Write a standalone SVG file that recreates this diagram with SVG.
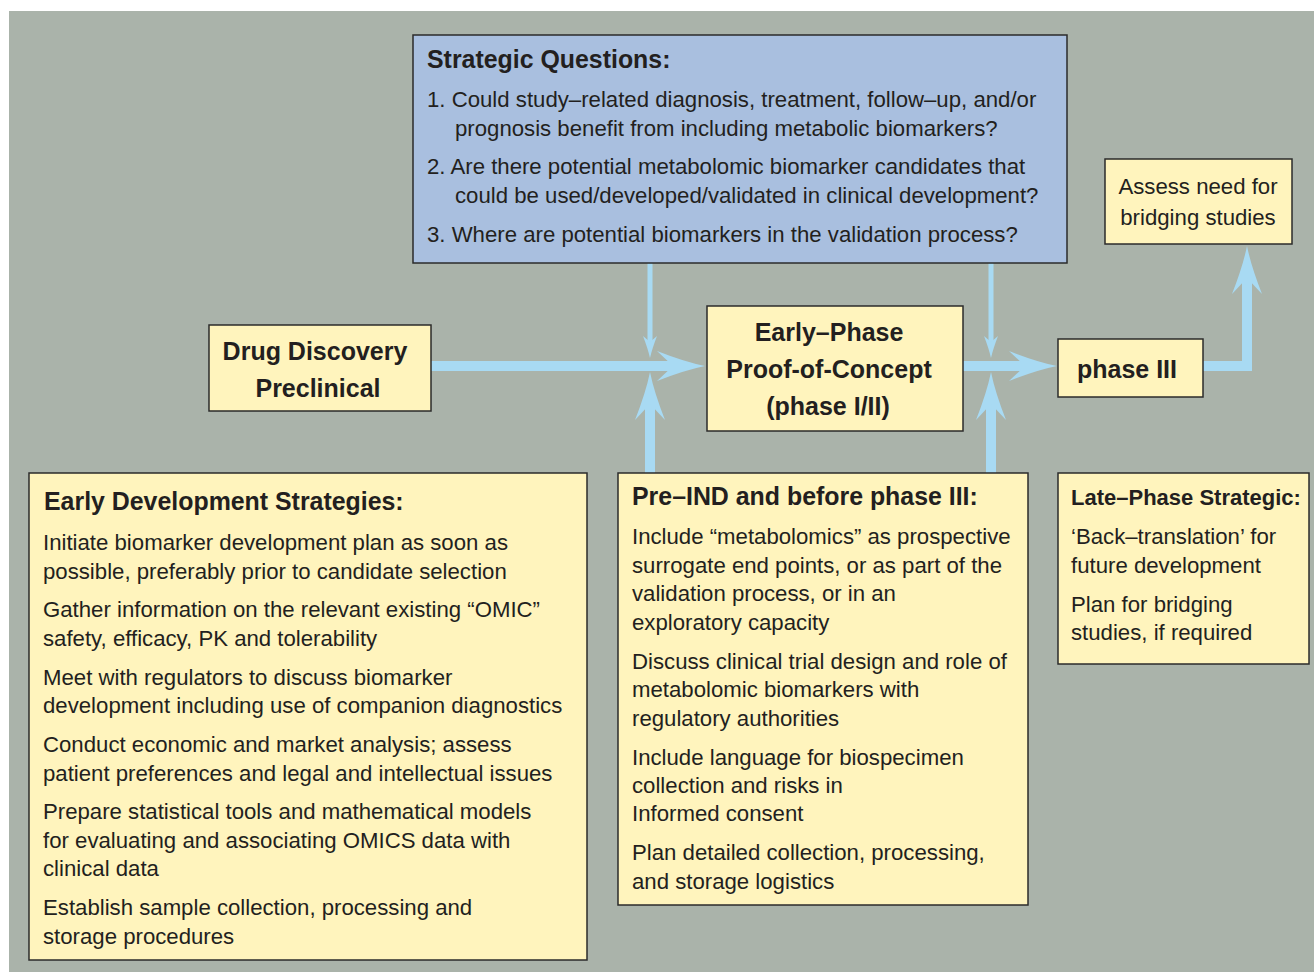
<svg xmlns="http://www.w3.org/2000/svg" width="1314" height="972" viewBox="0 0 1314 972">
<style>
.bg{fill:#aab3aa}
.box{fill:#fff4bd;stroke:#2b2b2b;stroke-width:1.5}
.qbox{fill:#a9bfdf;stroke:#2b2b2b;stroke-width:1.5}
text{font-family:"Liberation Sans",Arial,Helvetica,sans-serif;fill:#231f20}
.t{font-size:22.2px}
.h{font-size:24.9px;font-weight:bold}
.n{font-size:25px;font-weight:bold;text-anchor:middle}
.hs{font-size:22px;font-weight:bold}
.c{text-anchor:middle}
.thick{stroke:#a8daf3;stroke-width:10;fill:none}
.thin{stroke:#a8daf3;stroke-width:5;fill:none}
</style>
<defs>
<marker id="big" markerUnits="userSpaceOnUse" orient="auto" refX="0" refY="0" markerWidth="60" markerHeight="40" viewBox="-20 -20 60 40" overflow="visible">
<path d="M32,0 Q12,-4 -16,-15 L0,0 L-16,15 Q12,4 32,0 Z" fill="#a8daf3"/>
</marker>
<marker id="small" markerUnits="userSpaceOnUse" orient="auto" refX="0" refY="0" markerWidth="30" markerHeight="20" viewBox="-10 -10 30 20" overflow="visible">
<path d="M16,0 Q7,-2 -6,-7 L0,0 L-6,7 Q7,2 16,0 Z" fill="#a8daf3"/>
</marker>
</defs>
<rect class="bg" x="9" y="11" width="1305" height="961"/>
<g id="connectors">
<line class="thick" x1="431" y1="366" x2="673" y2="366" marker-end="url(#big)"/>
<line class="thick" x1="963" y1="366" x2="1025" y2="366" marker-end="url(#big)"/>
<polyline class="thick" points="1203,366 1247,366 1247,278" marker-end="url(#big)"/>
<line class="thin" x1="650" y1="263" x2="650" y2="342" marker-end="url(#small)"/>
<line class="thin" x1="991" y1="263" x2="991" y2="342" marker-end="url(#small)"/>
<line class="thick" x1="650" y1="473" x2="650" y2="404" marker-end="url(#big)"/>
<line class="thick" x1="991" y1="473" x2="991" y2="404" marker-end="url(#big)"/>
</g>
<g id="strategic-questions">
<rect class="qbox" x="413" y="35" width="654" height="228"/>
<text class="h" x="427" y="68">Strategic Questions:</text>
<text class="t" x="427" y="107">1. Could study–related diagnosis, treatment, follow–up, and/or</text>
<text class="t" x="455" y="136">prognosis benefit from including metabolic biomarkers?</text>
<text class="t" x="427" y="174">2. Are there potential metabolomic biomarker candidates that</text>
<text class="t" x="455" y="203">could be used/developed/validated in clinical development?</text>
<text class="t" x="427" y="242">3. Where are potential biomarkers in the validation process?</text>
</g>
<g id="drug-discovery">
<rect class="box" x="209" y="325" width="222" height="86"/>
<text class="n" x="315" y="360">Drug Discovery</text>
<text class="n" x="318" y="397">Preclinical</text>
</g>
<g id="early-phase">
<rect class="box" x="707" y="306" width="256" height="125"/>
<text class="n" x="829" y="341">Early–Phase</text>
<text class="n" x="829" y="378">Proof-of-Concept</text>
<text class="n" x="828" y="415">(phase I/II)</text>
</g>
<g id="phase-iii">
<rect class="box" x="1058" y="339" width="145" height="58"/>
<text class="n" x="1127" y="378">phase III</text>
</g>
<g id="assess">
<rect class="box" x="1105" y="159" width="187" height="85"/>
<text class="t c" x="1198" y="194">Assess need for</text>
<text class="t c" x="1198" y="225">bridging studies</text>
</g>
<g id="early-development">
<rect class="box" x="29" y="473" width="558" height="487"/>
<text class="h" x="44" y="510">Early Development Strategies:</text>
<text class="t" x="43" y="550">Initiate biomarker development plan as soon as</text>
<text class="t" x="43" y="579">possible, preferably prior to candidate selection</text>
<text class="t" x="43" y="617">Gather information on the relevant existing “OMIC”</text>
<text class="t" x="43" y="646">safety, efficacy, PK and tolerability</text>
<text class="t" x="43" y="685">Meet with regulators to discuss biomarker</text>
<text class="t" x="43" y="713">development including use of companion diagnostics</text>
<text class="t" x="43" y="752">Conduct economic and market analysis; assess</text>
<text class="t" x="43" y="781">patient preferences and legal and intellectual issues</text>
<text class="t" x="43" y="819">Prepare statistical tools and mathematical models</text>
<text class="t" x="43" y="848">for evaluating and associating OMICS data with</text>
<text class="t" x="43" y="876">clinical data</text>
<text class="t" x="43" y="915">Establish sample collection, processing and</text>
<text class="t" x="43" y="944">storage procedures</text>
</g>
<g id="pre-ind">
<rect class="box" x="618" y="473" width="410" height="432"/>
<text class="h" x="632" y="505">Pre–IND and before phase III:</text>
<text class="t" x="632" y="544">Include “metabolomics” as prospective</text>
<text class="t" x="632" y="573">surrogate end points, or as part of the</text>
<text class="t" x="632" y="601">validation process, or in an</text>
<text class="t" x="632" y="630">exploratory capacity</text>
<text class="t" x="632" y="669">Discuss clinical trial design and role of</text>
<text class="t" x="632" y="697">metabolomic biomarkers with</text>
<text class="t" x="632" y="726">regulatory authorities</text>
<text class="t" x="632" y="765">Include language for biospecimen</text>
<text class="t" x="632" y="793">collection and risks in</text>
<text class="t" x="632" y="821">Informed consent</text>
<text class="t" x="632" y="860">Plan detailed collection, processing,</text>
<text class="t" x="632" y="889">and storage logistics</text>
</g>
<g id="late-phase">
<rect class="box" x="1058" y="473" width="251" height="191"/>
<text class="hs" x="1071" y="505">Late–Phase Strategic:</text>
<text class="t" x="1071" y="544">‘Back–translation’ for</text>
<text class="t" x="1071" y="573">future development</text>
<text class="t" x="1071" y="612">Plan for bridging</text>
<text class="t" x="1071" y="640">studies, if required</text>
</g>
</svg>
